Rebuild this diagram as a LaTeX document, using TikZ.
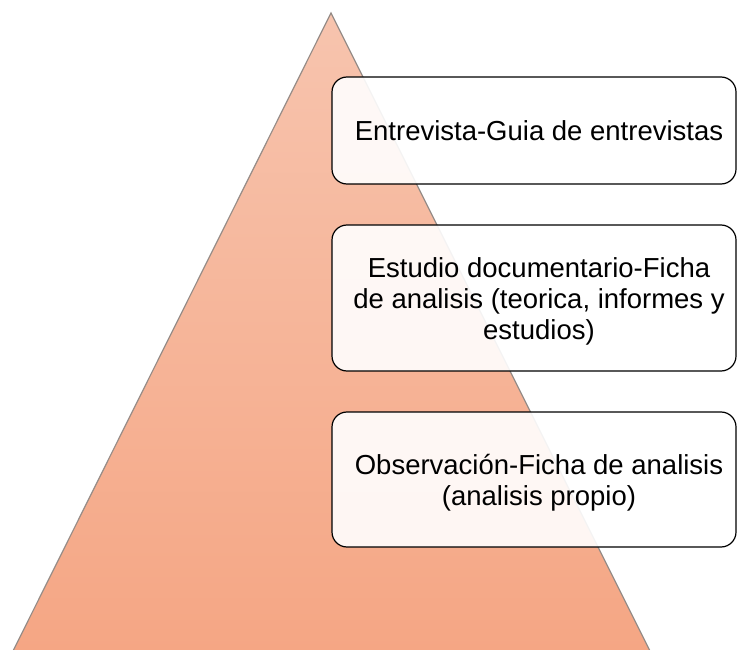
\documentclass[tikz,border=0pt]{standalone}
\usepackage{fontspec}
\setmainfont{Liberation Sans}
\definecolor{tritop}{RGB}{247,196,174}
\definecolor{tribot}{RGB}{245,166,132}
\definecolor{triedge}{RGB}{150,140,135}
\newcommand{\boxtext}[1]{\hspace*{10pt}\raisebox{-4pt}[\height][\depth]{\begin{tabular}{@{}c@{}}#1\end{tabular}}}
\begin{document}
\begin{tikzpicture}[x=1pt,y=-1pt,
  itembox/.style={draw=black,line width=1.2pt,rounded corners=15pt,fill=white,fill opacity=0.9,text opacity=1,
    font=\fontsize{27.5}{31}\selectfont,inner sep=0pt},
  tri/.style={draw=triedge,line width=1.2pt,top color=tritop,bottom color=tribot}]
\useasboundingbox (0,0) rectangle (737,650);
\path[tri] (331,13) coordinate (apex) -- (13,651) coordinate (bl) -- (650,651) coordinate (br) -- cycle;
\node[itembox,minimum width=404pt,minimum height=107pt] (b1) at (534,130.5) {\boxtext{Entrevista-Guia de entrevistas}};
\node[itembox,minimum width=404pt,minimum height=146pt] (b2) at (534,298) {\boxtext{Estudio documentario-Ficha\\de analisis (teorica, informes y\\estudios)}};
\node[itembox,minimum width=404pt,minimum height=135pt] (b3) at (534,479.5) {\boxtext{Observación-Ficha de analisis\\(analisis propio)}};
\end{tikzpicture}
\end{document}
